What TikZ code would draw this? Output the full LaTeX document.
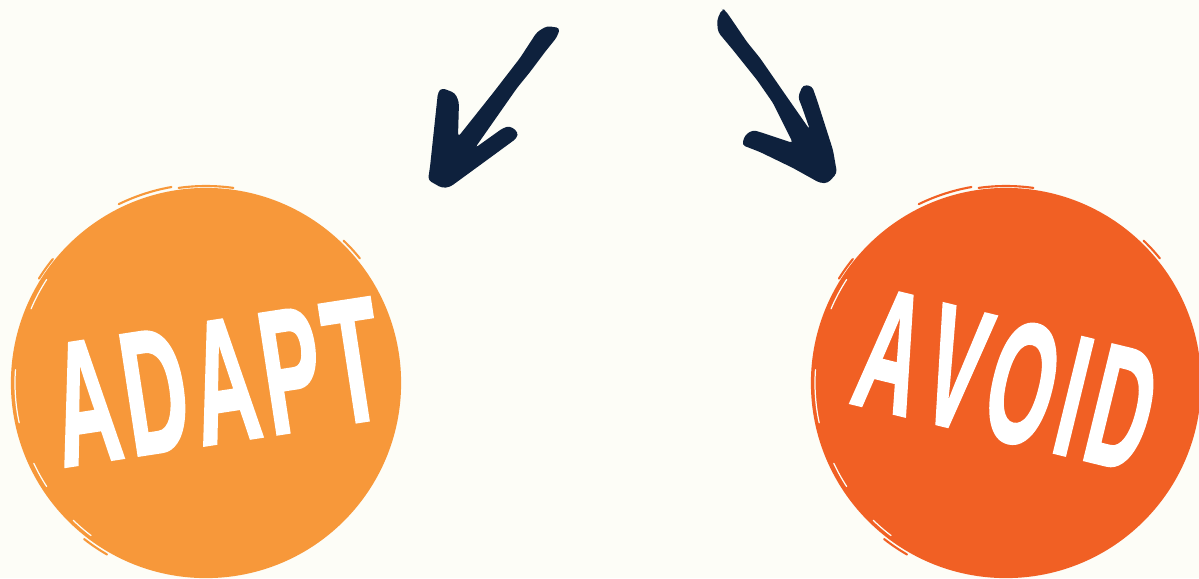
\documentclass[tikz,border=0pt]{standalone}
\usepackage{fontspec}
\usepackage{graphicx}
\newfontfamily\signfont{Liberation Sans}[FakeBold=1.8]
\definecolor{paper}{HTML}{FDFDF7}
\definecolor{adaptorange}{HTML}{F7983A}
\definecolor{avoidred}{HTML}{F16024}
\definecolor{arrownavy}{HTML}{0E213D}

\begin{document}
\begin{tikzpicture}[x=0.01cm, y=-0.01cm, every node/.style={inner sep=0pt},
  disc/.style={circle, minimum size=3.9cm},
  word/.style={text=white, font=\signfont\bfseries},
  streak/.style={line width=0.6pt, line cap=round},
  scratch/.style={line width=0.35pt, line cap=round, paper}]
\useasboundingbox (0,0) rectangle (1199,578);
\fill[paper] (0,0) rectangle (1199,578);

\node[disc, fill=adaptorange] (adapt) at (206,383) {};
\node[disc, fill=avoidred] (avoid) at (1006,383) {};

\foreach \cx/\col in {206/adaptorange, 1006/avoidred} {
  \draw[streak, \col] (\cx,383) ++(-116:199) arc[start angle=-116, end angle=-100, radius=199];
  \draw[streak, \col] (\cx,383) ++(-98:197) arc[start angle=-98, end angle=-82, radius=197];
  \draw[streak, \col] (\cx,383) ++(-46:198) arc[start angle=-46, end angle=-39, radius=198];
  \draw[streak, \col] (\cx,383) ++(-148:197) arc[start angle=-148, end angle=-141, radius=197];
  \draw[streak, \col] (\cx,383) ++(-240:198) arc[start angle=-240, end angle=-232, radius=198];
  \draw[scratch] (\cx,383) ++(-147:190) arc[start angle=-147, end angle=-157, radius=190];
  \draw[scratch] (\cx,383) ++(-176:191) arc[start angle=-176, end angle=-192, radius=191];
  \draw[scratch] (\cx,383) ++(-205:190) arc[start angle=-205, end angle=-213, radius=190];
  \draw[scratch] (\cx,383) ++(-226:191) arc[start angle=-226, end angle=-233, radius=191];
}

\node[word, rotate=8.7] (adaptword) at (217,382)
  {\resizebox{33mm}{12.1mm}{A\kern.07em D\kern.07em A\kern.07em P\kern.07em T}};
\node[word, rotate=-13.7] (avoidword) at (1007,380)
  {\resizebox{29.8mm}{12mm}{A\kern.09em V\kern.09em O\kern.09em I\kern.09em D}};

\fill[arrownavy, rounded corners=1pt] (537,32) -- (547,26) -- (560,28) -- (557,37) -- (545,52)
  -- (530,72) -- (517,88) -- (475,148) -- (503,128) -- (510,126) -- (518,132) -- (517,138)
  -- (487,160) -- (450,187) -- (442,188) -- (428,180) -- (430,167) -- (438,92) -- (442,88)
  -- (455,93) -- (459,102) -- (458,137) -- (493,93) -- (520,58) -- cycle;
\fill[arrownavy, rounded corners=1pt] (722,9) -- (717,20) -- (718,32) -- (733,50) -- (757,80)
  -- (773,103) -- (793,143) -- (763,133) -- (753,130) -- (745,135) -- (742,145) -- (760,152)
  -- (793,168) -- (820,183) -- (828,183) -- (837,173) -- (833,150) -- (817,100) -- (812,86)
  -- (803,85) -- (798,97) -- (802,107) -- (810,130) -- (787,97) -- (760,58) -- (747,42)
  -- (730,17) -- (725,10) -- cycle;
\end{tikzpicture}
\end{document}
